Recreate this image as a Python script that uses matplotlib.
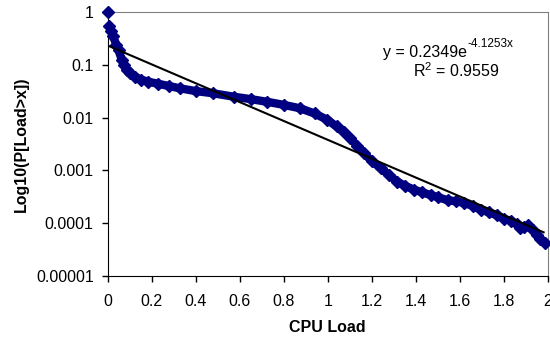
import numpy as np
import matplotlib
matplotlib.use("Agg")
import matplotlib.pyplot as plt
from matplotlib.ticker import FixedLocator, FixedFormatter, NullLocator

plt.rcParams['font.family'] = ['Liberation Sans', 'DejaVu Sans']
plt.rcParams['mathtext.fontset'] = 'custom'
plt.rcParams['mathtext.rm'] = 'Liberation Sans'
plt.rcParams['mathtext.it'] = 'Liberation Sans'
plt.rcParams['mathtext.default'] = 'regular'

# CPU load vs. P[Load > x]
cpu_load = [0.000, 0.007, 0.015, 0.026, 0.040, 0.050, 0.065, 0.075, 0.087, 0.100,
            0.125, 0.150, 0.186, 0.230, 0.277, 0.330, 0.400, 0.480, 0.573, 0.650,
            0.725, 0.800, 0.876, 0.940, 0.998, 1.040, 1.073, 1.100, 1.134, 1.164,
            1.200, 1.240, 1.280, 1.316, 1.350, 1.392, 1.430, 1.468, 1.500, 1.544,
            1.580, 1.620, 1.660, 1.695, 1.730, 1.770, 1.800, 1.832, 1.860, 1.875,
            1.890, 1.910, 1.930, 1.950, 1.965, 1.985]
p_exceed = [1.0, 0.55, 0.45, 0.35, 0.24, 0.19, 0.125, 0.10, 0.08, 0.07,
            0.06, 0.053, 0.048, 0.044, 0.040, 0.036, 0.032, 0.029, 0.025, 0.0225,
            0.020, 0.0175, 0.015, 0.012, 0.0091, 0.0068, 0.0054, 0.0042, 0.0029, 0.0021,
            0.0015, 0.0011, 0.00080, 0.00061, 0.00051, 0.00043, 0.00038, 0.00034, 0.00031, 0.00027,
            0.00026, 0.00024, 0.00021, 0.00018, 0.00016, 0.00014, 0.00012, 0.00011, 0.000095, 0.00008,
            0.000085, 0.00009, 0.000075, 0.00006, 0.00005, 0.000042]

# exponential trendline shown on the chart
fit_a = 0.2349
fit_b = -4.1253
r_squared = 0.9559
fit_x = [0.0, 1.98]

xticks = [0, 0.2, 0.4, 0.6, 0.8, 1, 1.2, 1.4, 1.6, 1.8, 2]
xtick_labels = ['0', '0.2', '0.4', '0.6', '0.8', '1', '1.2', '1.4', '1.6', '1.8', '2']
yticks = [1e-5, 1e-4, 1e-3, 1e-2, 1e-1, 1]
ytick_labels = ['0.00001', '0.0001', '0.001', '0.01', '0.1', '1']

navy = '#000080'

fig = plt.figure(figsize=(5.5, 3.39), dpi=100)
ax = fig.add_axes([0.1955, 0.1867, 0.8009, 0.777])

ax.plot(cpu_load[1:], p_exceed[1:], color=navy, lw=6, solid_capstyle='round',
        solid_joinstyle='round', zorder=2)
ax.plot(cpu_load, p_exceed, ls='none', marker='D', ms=6, color=navy, zorder=3, clip_on=False)

fx = np.array(fit_x)
ax.plot(fx, fit_a * np.exp(fit_b * fx), color='black', lw=1.5, zorder=4)

ax.set_yscale('log')
ax.set_xlim(0, 2)
ax.set_ylim(1e-5, 1)
ax.xaxis.set_major_locator(FixedLocator(xticks))
ax.xaxis.set_major_formatter(FixedFormatter(xtick_labels))
ax.yaxis.set_major_locator(FixedLocator(yticks))
ax.yaxis.set_major_formatter(FixedFormatter(ytick_labels))
ax.yaxis.set_minor_locator(NullLocator())
ax.tick_params(direction='out', length=4, width=1, labelsize=11.5, color='black')
ax.tick_params(axis='x', pad=9)
ax.tick_params(axis='y', pad=6)

for side in ['top', 'right']:
    ax.spines[side].set_color('#808080')
for side in ['left', 'bottom']:
    ax.spines[side].set_color('black')

ax.set_xlabel('CPU Load', fontsize=11.5, fontweight='bold')
ax.xaxis.set_label_coords(0.5, -0.168)
ax.set_ylabel('Log10(P[Load>x])', fontsize=11.5, fontweight='bold')
ax.yaxis.set_label_coords(-0.178, 0.5)

# equation: base text and superscript placed side by side
fig.text(467 / 550, 1 - 56.7 / 339, 'y = %.4fe' % fit_a, ha='right', va='baseline', fontsize=11.5)
fig.text(467.5 / 550, 1 - 46.7 / 339, '%.4fx' % fit_b, ha='left', va='baseline', fontsize=8.5)
fig.text(456 / 550, 1 - 76.7 / 339, 'R$^{2}$ = %.4f' % r_squared, ha='center', va='baseline', fontsize=11.5)

fig.savefig('out.png', dpi=100)
